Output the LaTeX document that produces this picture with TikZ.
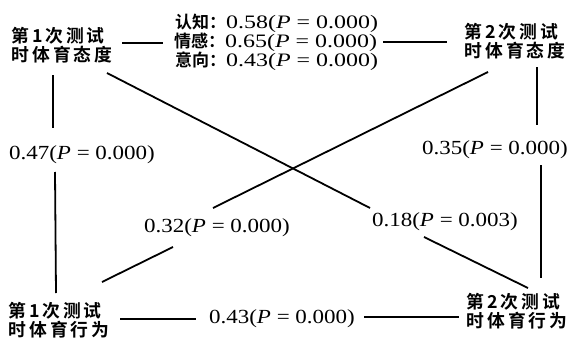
\documentclass[tikz,border=0pt]{standalone}
\usepackage{graphicx}
\usepackage{fontspec}
\setmainfont{Liberation Serif}
\newfontfamily\cjk{Noto Sans CJK SC Bold}
\newcommand\cs{\hspace{2.8pt}}
\newcommand\nm[2][1.15]{\scalebox{#1}[1]{#2}}
\begin{document}
\begin{tikzpicture}[x=1pt,y=-1pt,
  cn/.style={font=\cjk\fontsize{17.8}{19.5}\selectfont, inner sep=0pt, align=left},
  num/.style={font=\fontsize{20}{22}\selectfont, inner sep=0pt},
  mid/.style={inner sep=0pt, anchor=west},
  ln/.style={line width=1.8pt}]
\useasboundingbox (0,0) rectangle (571,340);
% nodes
\node[cn] (tl) at (62,45) {第\cs{}1\cs{}次\cs{}测\cs{}试\\时\cs{}体\cs{}育\cs{}态\cs{}度};
\node[cn] (tr) at (515,41) {第\cs{}2\cs{}次\cs{}测\cs{}试\\时\cs{}体\cs{}育\cs{}态\cs{}度};
\node[cn] (bl) at (59,320) {第\cs{}1\cs{}次\cs{}测\cs{}试\\时\cs{}体\cs{}育\cs{}行\cs{}为};
\node[cn] (br) at (517,311) {第\cs{}2\cs{}次\cs{}测\cs{}试\\时\cs{}体\cs{}育\cs{}行\cs{}为};
\node[mid] (m1) at (175,23) {{\cjk\fontsize{17}{18}\selectfont 认知：}{\fontsize{19}{21}\selectfont\nm[1.26]{0.58(\textit{P} = 0.000)}}};
\node[mid] (m2) at (174,42) {{\cjk\fontsize{17}{18}\selectfont 情感：}{\fontsize{19}{21}\selectfont\nm[1.26]{0.65(\textit{P} = 0.000)}}};
\node[mid] (m3) at (175,61.5) {{\cjk\fontsize{17}{18}\selectfont 意向：}{\fontsize{19}{21}\selectfont\nm[1.26]{0.43(\textit{P} = 0.000)}}};
\node[num] (l47) at (82,155) {\nm{0.47(\textit{P} = 0.000)}};
\node[num] (l35) at (495,150) {\nm{0.35(\textit{P} = 0.000)}};
\node[num] (l18) at (445,222) {\nm{0.18(\textit{P} = 0.003)}};
\node[num] (l32) at (217,228) {\nm{0.32(\textit{P} = 0.000)}};
\node[num] (l43) at (282,319) {\nm{0.43(\textit{P} = 0.000)}};
% connector end points
\coordinate (a1) at (122,43); \coordinate (a2) at (163,43);
\coordinate (b1) at (383,42); \coordinate (b2) at (447,42);
\coordinate (c1) at (53,75);  \coordinate (c2) at (53,128);
\coordinate (c3) at (55,172); \coordinate (c4) at (56,293);
\coordinate (d1) at (537,67); \coordinate (d2) at (537,125);
\coordinate (d3) at (541,165); \coordinate (d4) at (541,278);
\coordinate (e1) at (107,73); \coordinate (e2) at (370,208);
\coordinate (e3) at (424,237); \coordinate (e4) at (528,288);
\coordinate (f1) at (488,72); \coordinate (f2) at (213,208);
\coordinate (f3) at (173,247); \coordinate (f4) at (102,282);
\coordinate (g1) at (120,319); \coordinate (g2) at (196,319);
\coordinate (g3) at (364,317); \coordinate (g4) at (459,317);
% connectors
\draw[ln] (a1) -- (a2);
\draw[ln] (b1) -- (b2);
\draw[ln] (c1) -- (c2);
\draw[ln] (c3) -- (c4);
\draw[ln] (d1) -- (d2);
\draw[ln] (d3) -- (d4);
\draw[ln] (e1) -- (e2);
\draw[ln] (e3) -- (e4);
\draw[ln] (f1) -- (f2);
\draw[ln] (f3) -- (f4);
\draw[ln] (g1) -- (g2);
\draw[ln] (g3) -- (g4);
\end{tikzpicture}
\end{document}
